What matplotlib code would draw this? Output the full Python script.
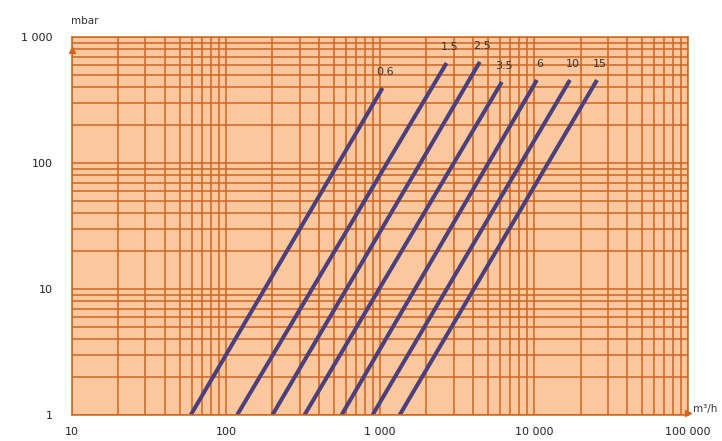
import numpy as np
import matplotlib.pyplot as plt
from matplotlib.ticker import FixedLocator, LogLocator, NullFormatter

# Flow (m3/h) at 1 mbar, flow at upper end, pressure drop at upper end (mbar)
sizes = ['0.6', '1.5', '2.5', '3.5', '6', '10', '15']
q_low = [59, 118, 200, 323, 562, 893, 1340]
q_high = [1037, 2700, 4440, 6170, 10420, 17070, 25580]
p_high = [394, 622, 635, 440, 456, 456, 456]

x_ticks = [10, 100, 1000, 10000, 100000]
x_labels = ['10', '100', '1 000', '10 000', '100 000']
y_ticks = [1, 10, 100, 1000]
y_labels = ['1', '10', '100', '1 000']

grid_col = '#d0651e'
bg_col = '#fbc79e'
line_col = '#4b3f7c'

fig = plt.figure(figsize=(7.22, 4.41), dpi=100)
ax = fig.add_axes([0.0997, 0.059, 0.8535, 0.857])
ax.set_xscale('log')
ax.set_yscale('log')
ax.set_xlim(10, 100000)
ax.set_ylim(1, 1000)
ax.set_facecolor(bg_col)

ax.xaxis.set_major_locator(FixedLocator(x_ticks))
ax.xaxis.set_minor_locator(LogLocator(base=10, subs=np.arange(2, 10)))
ax.xaxis.set_minor_formatter(NullFormatter())
ax.yaxis.set_major_locator(FixedLocator(y_ticks))
ax.yaxis.set_minor_locator(LogLocator(base=10, subs=np.arange(2, 10)))
ax.yaxis.set_minor_formatter(NullFormatter())
ax.set_xticklabels(x_labels)
ax.set_yticklabels(y_labels)
ax.tick_params(which='both', length=0, labelsize=8, colors='#222222')
ax.tick_params(axis='x', pad=9)
ax.tick_params(axis='y', pad=14)

ax.grid(True, which='both', color=grid_col, linewidth=1.1)
ax.set_axisbelow(True)
for s in ax.spines.values():
    s.set_color(grid_col)
    s.set_linewidth(1.1)

for name, q0, q1, p1 in zip(sizes, q_low, q_high, p_high):
    ax.plot([q0, q1], [1, p1], color=line_col, linewidth=2.9, solid_capstyle='butt')
    ax.text(q1 * 1.04, p1 * 1.22, name, fontsize=8, color='#333333',
            ha='center', va='bottom')

# small axis arrows
ax.plot([0], [0.965], marker='^', color=grid_col, markersize=4,
        transform=ax.transAxes, clip_on=False)
ax.plot([1.0], [0.005], marker='>', color=grid_col, markersize=4,
        transform=ax.transAxes, clip_on=False)

fig.text(0.118, 0.945, 'mbar', fontsize=7.5, color='#333333', ha='center')
fig.text(0.977, 0.066, 'm³/h', fontsize=7.5, color='#333333', ha='center')

fig.savefig('out.png', dpi=100)
